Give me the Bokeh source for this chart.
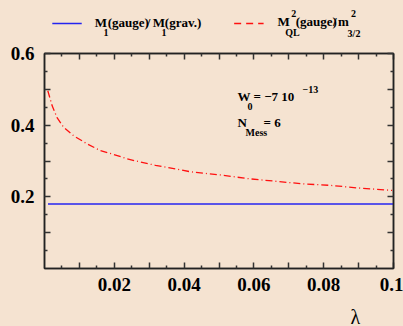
from bokeh.plotting import figure
from bokeh.layouts import column
from bokeh.models import Range1d, LinearAxis, FixedTicker, Label
from bokeh.embed import file_html
from bokeh.resources import INLINE

# ---- data ----
lam = [0.00095, 0.0022, 0.0036, 0.0055, 0.0084, 0.0122, 0.0160, 0.0199, 0.0237,
       0.0275, 0.0318, 0.0352, 0.0418, 0.0504, 0.0590, 0.0667, 0.0743, 0.0819,
       0.0896, 0.0996]
mql_ratio = [0.496, 0.454, 0.421, 0.394, 0.370, 0.348, 0.329, 0.318, 0.306,
             0.297, 0.288, 0.282, 0.270, 0.261, 0.250, 0.243, 0.236, 0.232,
             0.225, 0.218]
lam_blue = [0.001, 0.1]
m1_ratio = [0.18, 0.18]

x_ticks = [0.01, 0.02, 0.03, 0.04, 0.05, 0.06, 0.07, 0.08, 0.09, 0.1]
x_minor = [0.005, 0.015, 0.025, 0.035, 0.045, 0.055, 0.065, 0.075, 0.085, 0.095]
x_labels = {0.02: "0.02", 0.04: "0.04", 0.06: "0.06", 0.08: "0.08", 0.1: "0.1"}
y_ticks = [0.1, 0.2, 0.3, 0.4, 0.5, 0.6]
y_minor = [0.05, 0.15, 0.25, 0.35, 0.45, 0.55]
y_labels = {0.2: "0.2", 0.4: "0.4", 0.6: "0.6"}

BG = "#F5E3D1"
FONT = "Liberation Serif"
BLUE = "#2424f0"
RED = "#ff1010"

W = 403
TOP_H = 40          # legend strip
BOT_Y = 296         # start of the lambda strip
H_TOTAL = 326
L, R, T, B = 44, 393, 53, 268      # frame in page pixels
X0, X1, Y0, Y1 = 0.0, 0.1, 0.0, 0.6


def strip(y_top, y_bot):
    f = figure(width=W, height=y_bot - y_top, output_backend="svg",
               toolbar_location=None, x_range=Range1d(0, W),
               y_range=Range1d(y_bot, y_top), title=None,
               x_axis_location=None, y_axis_location=None,
               min_border=0)
    f.background_fill_color = BG
    f.border_fill_color = BG
    f.outline_line_color = None
    f.grid.visible = False
    return f


def txt(f, s, px, py, size=13, style="bold", align="left", base="alphabetic"):
    f.add_layout(Label(x=px, y=py, text=s, text_font=FONT,
                       text_font_style=style, text_font_size=f"{size}px",
                       text_color="black", text_align=align,
                       text_baseline=base))


# ---------------- legend strip ----------------
leg = strip(0, TOP_H)
leg.line([9, 43], [23, 23], line_color=BLUE, line_width=1.5)
leg.line([219, 253], [23, 23], line_color=RED, line_width=1.5, line_dash="7 5")

txt(leg, "M", 58, 22)
txt(leg, "1", 68, 32, 10)
txt(leg, "(gauge)", 73, 22)
txt(leg, "/", 118, 22)
txt(leg, "M", 125, 22)
txt(leg, "1", 135, 32, 10)
txt(leg, "(grav.)", 139, 22)

txt(leg, "M", 269, 21)
txt(leg, "2", 285, 13, 10)
txt(leg, "QL", 278, 32, 10)
txt(leg, "(gauge)", 290, 21)
txt(leg, "/", 333, 21)
txt(leg, "m", 339, 21)
txt(leg, "2", 354, 13, 10)
txt(leg, "3/2", 350, 33, 10)

# ---------------- main plot ----------------
p = figure(width=W, height=BOT_Y - TOP_H, output_backend="svg",
           toolbar_location=None,
           x_range=Range1d(X0, X1), y_range=Range1d(Y0, Y1),
           x_axis_location=None, y_axis_location=None,
           min_border_left=L, min_border_right=W - R,
           min_border_top=T - TOP_H, min_border_bottom=BOT_Y - B)
p.background_fill_color = BG
p.border_fill_color = BG
p.outline_line_color = "#222222"
p.outline_line_width = 1.5
p.grid.visible = False


def make_axis(ticks, minor, labels, show):
    ax = LinearAxis(ticker=FixedTicker(ticks=ticks, minor_ticks=minor))
    ax.major_label_overrides = {t: (labels.get(t, "") if show else "") for t in ticks}
    ax.major_tick_in = 6
    ax.major_tick_out = 0
    ax.minor_tick_in = 3
    ax.minor_tick_out = 0
    ax.major_tick_line_color = "#333333"
    ax.minor_tick_line_color = "#333333"
    ax.major_tick_line_width = 1.5
    ax.minor_tick_line_width = 1.5
    ax.axis_line_color = "#222222"
    ax.axis_line_width = 1.5
    ax.major_label_text_font = FONT
    ax.major_label_text_font_style = "bold"
    ax.major_label_text_font_size = "19px" if show else "0px"
    ax.major_label_text_color = "black"
    if not show:
        ax.major_label_standoff = 0
    return ax


bx = make_axis(x_ticks, x_minor, x_labels, True)
bx.major_label_standoff = 9
lx = make_axis(y_ticks, y_minor, y_labels, True)
lx.major_label_standoff = 10
tx = make_axis(x_ticks, x_minor, x_labels, False)
rx = make_axis(y_ticks, y_minor, y_labels, False)
p.add_layout(bx, "below")
p.add_layout(lx, "left")
p.add_layout(tx, "above")
p.add_layout(rx, "right")

p.line(lam_blue, m1_ratio, line_color=BLUE, line_width=1.5)
p.line(lam, mql_ratio, line_color=RED, line_width=1.3, line_dash="7 3 1 3")


def dx(px):
    return X0 + (px - L) / (R - L) * (X1 - X0)


def dy(py):
    return Y0 + (B - py) / (B - T) * (Y1 - Y0)


txt(p, "W", dx(237), dy(96))
txt(p, "0", dx(247), dy(106), 10)
txt(p, "= \u22127 10", dx(253), dy(96))
txt(p, "\u221213", dx(302), dy(89), 10)
txt(p, "N", dx(237), dy(122))
txt(p, "Mess", dx(245), dy(132), 10)
txt(p, "= 6", dx(263), dy(122))

# ---------------- lambda strip ----------------
bot = strip(BOT_Y, H_TOTAL)
txt(bot, "\u03bb", 359, 316, 20, "normal", "center", "middle")

layout = column(leg, p, bot, spacing=0, styles={"background-color": BG})
open("out.html", "w").write(file_html(layout, INLINE))
